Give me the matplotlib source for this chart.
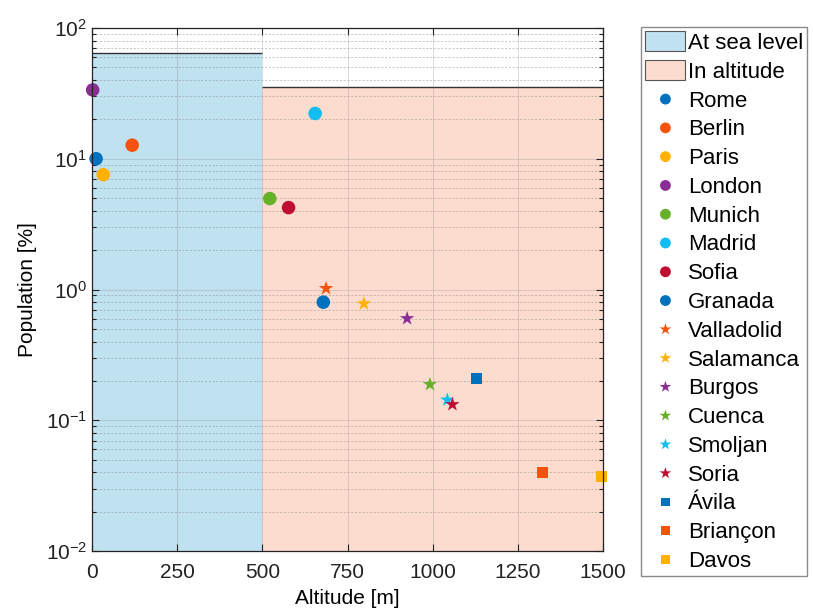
import numpy as np
import matplotlib
matplotlib.use("Agg")
import matplotlib.pyplot as plt

plt.rcParams['font.family'] = ['Liberation Sans', 'DejaVu Sans']
plt.rcParams['mathtext.fontset'] = 'custom'
plt.rcParams['mathtext.rm'] = 'Liberation Sans'
plt.rcParams['mathtext.default'] = 'regular'

# Share of population living at sea level / in altitude (bars)
zone_labels = ['At sea level', 'In altitude']
zone_left = [0, 500]
zone_width = [500, 1000]
zone_share = [64.5, 35.5]
zone_colors = ['#BFE1F0', '#FDDCD0']

# Cities: altitude [m], population [%]
cities = ['Rome', 'Berlin', 'Paris', 'London', 'Munich', 'Madrid', 'Sofia', 'Granada',
          'Valladolid', 'Salamanca', 'Burgos', 'Cuenca', 'Smoljan', 'Soria',
          'Ávila', 'Briançon', 'Davos']
altitude = [12, 118, 33, 2, 522, 655, 577, 679,
            687, 798, 925, 992, 1043, 1058,
            1129, 1323, 1496]
population = [10.0, 12.7, 7.55, 33.6, 4.96, 22.2, 4.23, 0.80,
              1.02, 0.78, 0.60, 0.188, 0.143, 0.132,
              0.208, 0.0398, 0.0373]
markers = ['o'] * 8 + ['*'] * 6 + ['s'] * 3
palette = ['#0072BD', '#F5520E', '#FFB000', '#8B2E94', '#66B02A', '#12BDEF', '#BE0F32']
colors = [palette[i % 7] for i in range(8)] + palette[1:7] + palette[:3]
sizes = {'o': 95, '*': 120, 's': 60}

fig = plt.figure(figsize=(8.13, 6.13), dpi=100)
ax = fig.add_axes([92 / 813, 1 - 551 / 613, 511 / 813, 523 / 613])

handles = []
bottom = 1e-2
for lbl, left, w, h, c in zip(zone_labels, zone_left, zone_width, zone_share, zone_colors):
    b = ax.bar(left, h - bottom, width=w, bottom=bottom, align='edge', color=c,
               edgecolor='#555555', linewidth=0.0, label=lbl, zorder=1)
    ax.hlines(h, left, left + w, color='#333333', linewidth=1.0, zorder=2)
    handles.append(b)

for name, x, y, m, c in zip(cities, altitude, population, markers, colors):
    sc = ax.scatter(x, y, marker=m, s=sizes[m], color=c, edgecolors='none',
                    label=name, zorder=4, clip_on=False)
    handles.append(sc)

ax.set_yscale('log')
ax.set_xlim(0, 1500)
ax.set_ylim(1e-2, 1e2)
ax.set_xticks(np.arange(0, 1501, 250))

ax.set_axisbelow(False)
ax.grid(True, which='major', color='#888888', alpha=0.35, linewidth=0.6, zorder=3)
ax.grid(True, which='minor', axis='y', color='#888888', alpha=0.55,
        linestyle=(0, (2.5, 2)), linewidth=0.6, zorder=3)

ax.tick_params(which='both', direction='in', top=True, right=True, labelsize=15,
               colors='#222222', width=0.8)
ax.tick_params(which='major', length=5)
ax.tick_params(which='minor', length=3)
ax.tick_params(axis='x', pad=9)
for s in ax.spines.values():
    s.set_color('#222222')
    s.set_linewidth(0.9)
    s.set_zorder(5)

ax.set_xlabel('Altitude [m]', fontsize=15, labelpad=5)
ax.set_ylabel('Population [%]', fontsize=15, labelpad=6)

leg = fig.legend(handles=handles, labels=zone_labels + cities,
                 loc='upper left', bbox_to_anchor=(641 / 813, 1 - 27 / 613),
                 fontsize=16, frameon=True, fancybox=False, framealpha=1,
                 edgecolor='#8a8a8a', handlelength=1.8, handleheight=1.0,
                 handletextpad=0.1, labelspacing=0.28, borderpad=0.2,
                 borderaxespad=0, markerscale=0.8)
leg.get_frame().set_linewidth(1.0)
for h in leg.legend_handles[:2]:
    h.set_edgecolor('#555555')
    h.set_linewidth(0.8)

fig.savefig('out.png', dpi=100)
